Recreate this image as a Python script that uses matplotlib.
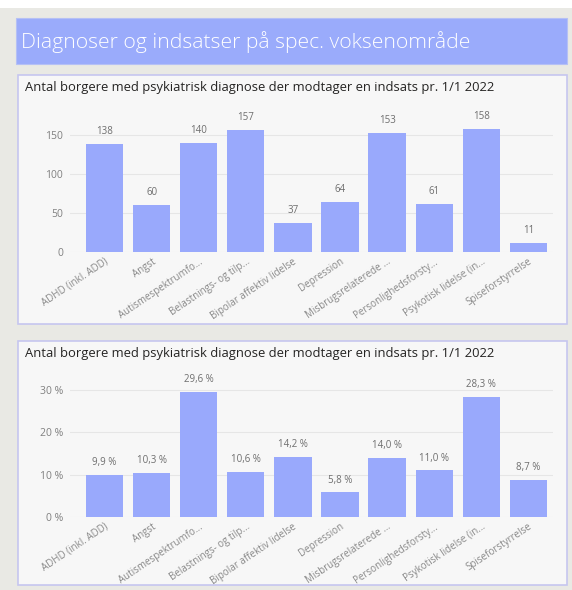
import matplotlib
matplotlib.use("Agg")
import matplotlib.pyplot as plt
from matplotlib.patches import Rectangle

W, H = 572, 590

categories = ["ADHD (inkl. ADD)", "Angst", "Autismespektrumfo...", "Belastnings- og tilp...",
              "Bipolar affektiv lidelse", "Depression", "Misbrugsrelaterede ...",
              "Personlighedsforsty...", "Psykotisk lidelse (in...", "Spiseforstyrrelse"]
counts = [138, 60, 140, 157, 37, 64, 153, 61, 158, 11]
percents = [9.9, 10.3, 29.6, 10.6, 14.2, 5.8, 14.0, 11.0, 28.3, 8.7]
count_ticks = [0, 50, 100, 150]
pct_ticks = [0, 10, 20, 30]

main_title = "Diagnoser og indsatser på spec. voksenområde"
panel_title = "Antal borgere med psykiatrisk diagnose der modtager en indsats pr. 1/1 2022"

BG = "#e9e9e4"
PANEL = "#f7f7f7"
BORDER = "#c6c6ef"
BAR = "#99a9fc"
BANNER = "#9aabfb"
FONT = ["Open Sans", "DejaVu Sans"]

plt.rcParams["font.family"] = FONT

fig = plt.figure(figsize=(W / 100, H / 100), dpi=100)
fig.patch.set_facecolor(BG)


def rect(x0, y0, x1, y1):
    return [x0 / W, 1 - y1 / H, (x1 - x0) / W, (y1 - y0) / H]


def fx(x):
    return x / W


def fy(y):
    return 1 - y / H


# white top strip
fig.patches.append(Rectangle((0, fy(8)), 1, 8 / H, transform=fig.transFigure,
                             facecolor="white", edgecolor="none", zorder=0))
# banner
b = rect(16, 18, 567, 64)
fig.patches.append(Rectangle((b[0], b[1]), b[2], b[3], transform=fig.transFigure,
                             facecolor=BANNER, edgecolor="#b5c0f5", lw=0.8, zorder=1))
fig.text(fx(21), fy(42), main_title, color="white", fontsize=15.2, fontweight="light",
         va="center", ha="left", zorder=3)

panels = [(18, 75, 567, 324), (18, 341, 567, 585)]
for (x0, y0, x1, y1) in panels:
    r = rect(x0, y0, x1, y1)
    fig.patches.append(Rectangle((r[0], r[1]), r[2], r[3], transform=fig.transFigure,
                                 facecolor=PANEL, edgecolor=BORDER, lw=1.2, zorder=1))
    fig.text(fx(25), fy(y0 + 13), panel_title, color="#252423", fontsize=9.4,
             va="center", ha="left", zorder=3)

x_pos = list(range(len(categories)))
pitch = 47.1
cx0 = 104.5
xl = ((70 - cx0) / pitch, (553 - cx0) / pitch)


def draw(ax, values, ticks, ylim, labels, ticklabels):
    ax.set_facecolor("none")
    ax.bar(x_pos, values, width=0.79, color=BAR, zorder=2)
    ax.set_xlim(*xl)
    ax.set_ylim(*ylim)
    ax.set_yticks(ticks)
    ax.set_yticklabels(ticklabels, color="#808080", fontsize=7.5)
    ax.set_xticks(x_pos)
    ax.set_xticklabels(categories, rotation=34, ha="right", rotation_mode="anchor",
                       color="#888888", fontsize=7)
    ax.tick_params(axis="both", length=0, pad=5)
    ax.tick_params(axis="x", pad=3)
    for s in ax.spines.values():
        s.set_visible(False)
    ax.grid(axis="y", color="#e6e6e6", lw=0.8, zorder=0)
    ax.set_axisbelow(True)
    for xi, v, lab in zip(x_pos, values, labels):
        ax.annotate(lab, (xi, v), xytext=(0, 5), textcoords="offset points",
                    ha="center", va="bottom", fontsize=7, color="#6e6e6e", zorder=3)


ax1 = fig.add_axes(rect(70, 118, 553, 252))
ax1.set_zorder(2)
draw(ax1, counts, count_ticks, (0, 134 / 0.78), [str(v) for v in counts],
     [str(t) for t in count_ticks])

ax2 = fig.add_axes(rect(70, 377, 553, 517))
ax2.set_zorder(2)
draw(ax2, percents, pct_ticks, (0, 140 / 4.23),
     [f"{v:.1f} %".replace(".", ",") for v in percents],
     [f"{t} %" for t in pct_ticks])

fig.savefig("out.png", dpi=100, facecolor=fig.get_facecolor())
